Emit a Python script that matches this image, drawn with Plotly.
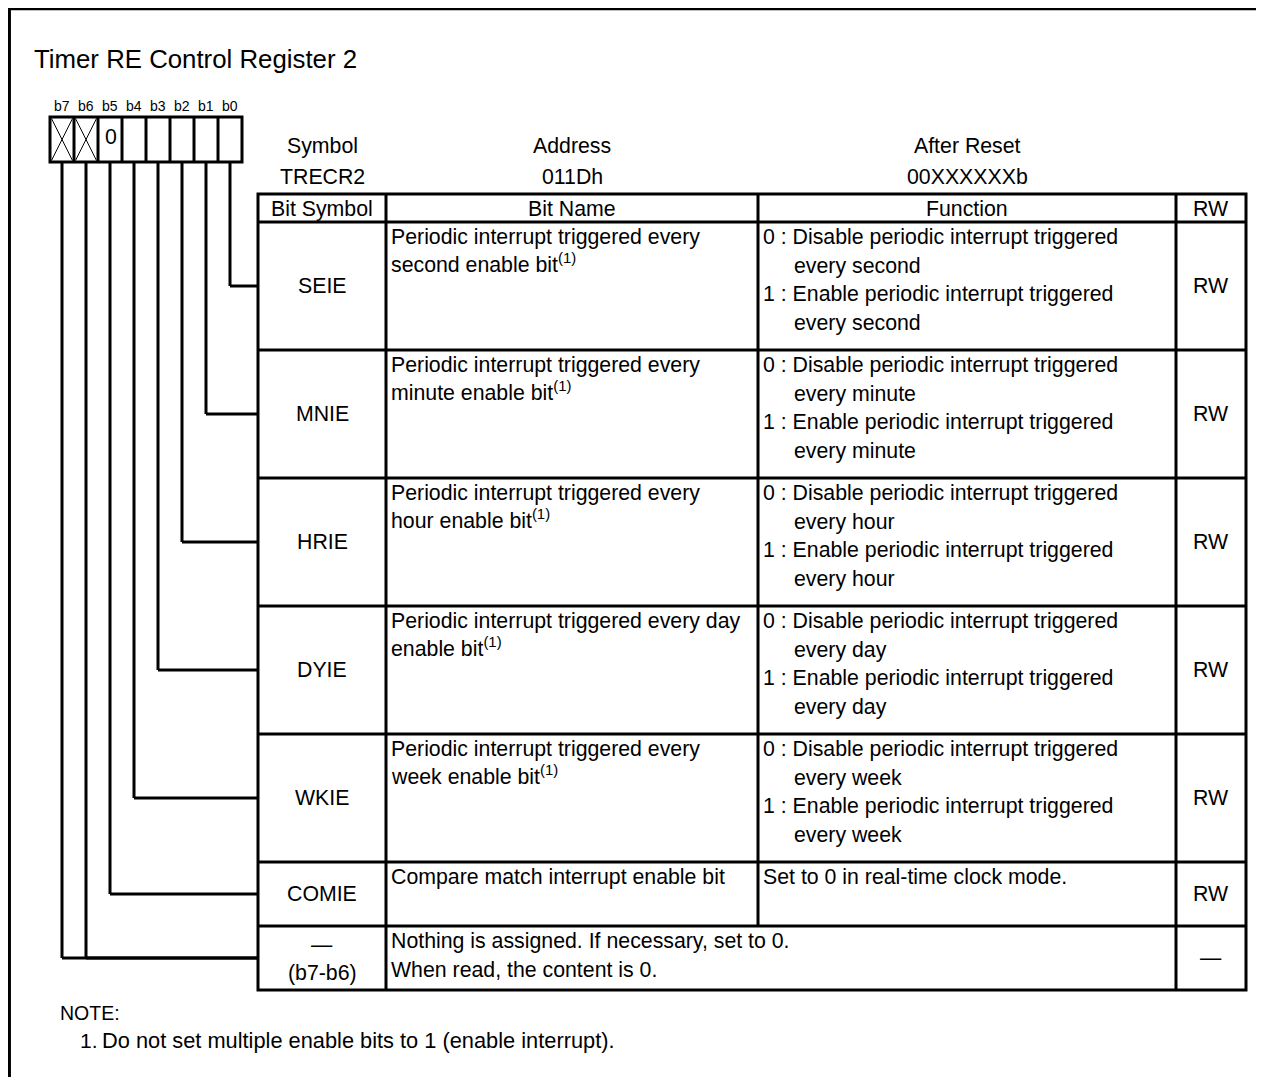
import plotly.graph_objects as go

# ---------------- data ----------------
title_text = "Timer RE Control Register 2"
bit_labels = ["b7", "b6", "b5", "b4", "b3", "b2", "b1", "b0"]
bit_cells = ["X", "X", "0", "", "", "", "", ""]          # X = reserved (crossed)
header_keys = ["Symbol", "Address", "After Reset"]
header_vals = ["TRECR2", "011Dh", "00XXXXXXb"]
col_headers = ["Bit Symbol", "Bit Name", "Function", "RW"]
symbols = ["SEIE", "MNIE", "HRIE", "DYIE", "WKIE", "COMIE", "—"]
symbol_sub = ["", "", "", "", "", "", "(b7-b6)"]
row_bits = [[0], [1], [2], [3], [4], [5], [7, 6]]
bit_names = [
    ["Periodic interrupt triggered every", "second enable bit<sup>(1)</sup>"],
    ["Periodic interrupt triggered every", "minute enable bit<sup>(1)</sup>"],
    ["Periodic interrupt triggered every", "hour enable bit<sup>(1)</sup>"],
    ["Periodic interrupt triggered every day", "enable bit<sup>(1)</sup>"],
    ["Periodic interrupt triggered every", "week enable bit<sup>(1)</sup>"],
    ["Compare match interrupt enable bit"],
    ["Nothing is assigned. If necessary, set to 0.", "When read, the content is 0."],
]
functions = [
    [("0 : ", "Disable periodic interrupt triggered"), ("", "every second"),
     ("1 : ", "Enable periodic interrupt triggered"), ("", "every second")],
    [("0 : ", "Disable periodic interrupt triggered"), ("", "every minute"),
     ("1 : ", "Enable periodic interrupt triggered"), ("", "every minute")],
    [("0 : ", "Disable periodic interrupt triggered"), ("", "every hour"),
     ("1 : ", "Enable periodic interrupt triggered"), ("", "every hour")],
    [("0 : ", "Disable periodic interrupt triggered"), ("", "every day"),
     ("1 : ", "Enable periodic interrupt triggered"), ("", "every day")],
    [("0 : ", "Disable periodic interrupt triggered"), ("", "every week"),
     ("1 : ", "Enable periodic interrupt triggered"), ("", "every week")],
    [("", "Set to 0 in real-time clock mode.")],
    [],
]
rw = ["RW", "RW", "RW", "RW", "RW", "RW", "—"]
note_title = "NOTE:"
notes = ["1.", "Do not set multiple enable bits to 1 (enable interrupt)."]

# ---------------- layout constants ----------------
W, H = 1264, 1077
OFF = 8                      # page body margin
FONT = "Liberation Sans, Arial, Helvetica, sans-serif"
BODY = 21.3
LW = 3
box_x0, box_w, box_y0, box_y1 = 50, 24, 117, 162
tbl_cols = [258, 386, 758, 1176, 1246]
tbl_top, hdr_bot = 194, 222
row_h = [128, 128, 128, 128, 128, 64, 64]
line_step = 28.6

shapes = []
annots = []


def line(x0, y0, x1, y1, w=LW):
    shapes.append(dict(type="line", x0=x0, y0=y0, x1=x1, y1=y1, xref="x", yref="y",
                       line=dict(color="black", width=w)))


def text(x, y, s, size=BODY, anchor="left"):
    if "<sup>" in s:
        y -= 2.5
    annots.append(dict(x=x, y=y, text=s, showarrow=False, xref="x", yref="y",
                       xanchor=anchor, yanchor="middle", borderpad=0, borderwidth=0,
                       font=dict(family=FONT, size=size, color="black")))


# outer frame (top + left)
line(OFF, 8.5, W + 5, 8.5, 3.5)
line(9.2, OFF, 9.2, H + 5, 3.5)

# title
text(34, 59, title_text, 25.8)

# bit boxes
n = len(bit_labels)
box_x1 = box_x0 + box_w * n
shapes.append(dict(type="rect", x0=box_x0, y0=box_y0, x1=box_x1, y1=box_y1, xref="x", yref="y",
                   line=dict(color="black", width=LW)))
for i in range(1, n):
    line(box_x0 + box_w * i, box_y0, box_x0 + box_w * i, box_y1)
for i, (lab, cell) in enumerate(zip(bit_labels, bit_cells)):
    cx = box_x0 + box_w * (i + 0.5)
    text(cx, 106, lab, 14, "center")
    if cell == "X":
        xa, xb = box_x0 + box_w * i + 1.5, box_x0 + box_w * (i + 1) - 1.5
        line(xa, box_y0 + 1.5, xb, box_y1 - 1.5, 1)
        line(xa, box_y1 - 1.5, xb, box_y0 + 1.5, 1)
    elif cell:
        text(cx + 1, 137, cell, BODY, "center")

# header (symbol / address / after reset)
hdr_cx = [(tbl_cols[0] + tbl_cols[1]) / 2, (tbl_cols[1] + tbl_cols[2]) / 2, (tbl_cols[2] + tbl_cols[3]) / 2]
for cx, k, v in zip(hdr_cx, header_keys, header_vals):
    text(cx, 146, k, BODY, "center")
    text(cx, 177, v, BODY, "center")

# table frame
tbl_bot = hdr_bot + sum(row_h)
shapes.append(dict(type="rect", x0=tbl_cols[0], y0=tbl_top, x1=tbl_cols[-1], y1=tbl_bot,
                   xref="x", yref="y", line=dict(color="black", width=LW)))
line(tbl_cols[1], tbl_top, tbl_cols[1], tbl_bot)
line(tbl_cols[3], tbl_top, tbl_cols[3], tbl_bot)
line(tbl_cols[2], tbl_top, tbl_cols[2], tbl_bot - row_h[-1])
line(tbl_cols[0], hdr_bot, tbl_cols[-1], hdr_bot)
for j, h in enumerate(col_headers):
    text((tbl_cols[j] + tbl_cols[j + 1]) / 2, (tbl_top + hdr_bot) / 2 + 1, h, BODY, "center")

y = hdr_bot
for r in range(len(symbols)):
    top, bot = y, y + row_h[r]
    mid = (top + bot) / 2
    if r < len(symbols) - 1:
        line(tbl_cols[0], bot, tbl_cols[-1], bot)
    # bit symbol
    if symbol_sub[r]:
        text((tbl_cols[0] + tbl_cols[1]) / 2, top + 19, symbols[r], BODY, "center")
        text((tbl_cols[0] + tbl_cols[1]) / 2, top + 47, symbol_sub[r], BODY, "center")
    else:
        text((tbl_cols[0] + tbl_cols[1]) / 2, mid, symbols[r], BODY, "center")
    # bit name
    for k, s in enumerate(bit_names[r]):
        text(tbl_cols[1] + 5, top + 15 + k * line_step, s, BODY)
    # function
    for k, (pre, s) in enumerate(functions[r]):
        text(tbl_cols[2] + 5 if pre or r == 5 else tbl_cols[2] + 36, top + 15 + k * line_step, pre + s, BODY)
    # rw
    text((tbl_cols[3] + tbl_cols[4]) / 2, mid, rw[r], BODY, "center")
    # connectors from bit boxes
    for b in row_bits[r]:
        bx = box_x0 + box_w * (7 - b + 0.5)
        line(bx, box_y1, bx, mid)
        line(bx, mid, tbl_cols[0], mid)
    y = bot

# notes
text(60, 1013, note_title, 19.5)
text(80, 1040, notes[0], 21)
text(102, 1040, notes[1], 21.8)

fig = go.Figure()
fig.update_layout(
    width=W - OFF, height=H - OFF, margin=dict(l=0, r=0, t=0, b=0, pad=0),
    paper_bgcolor="white", plot_bgcolor="white",
    xaxis=dict(range=[OFF, W], visible=False, fixedrange=True),
    yaxis=dict(range=[H, OFF], visible=False, fixedrange=True),
    shapes=shapes, annotations=annots, showlegend=False,
)
fig.write_html("out.html")
